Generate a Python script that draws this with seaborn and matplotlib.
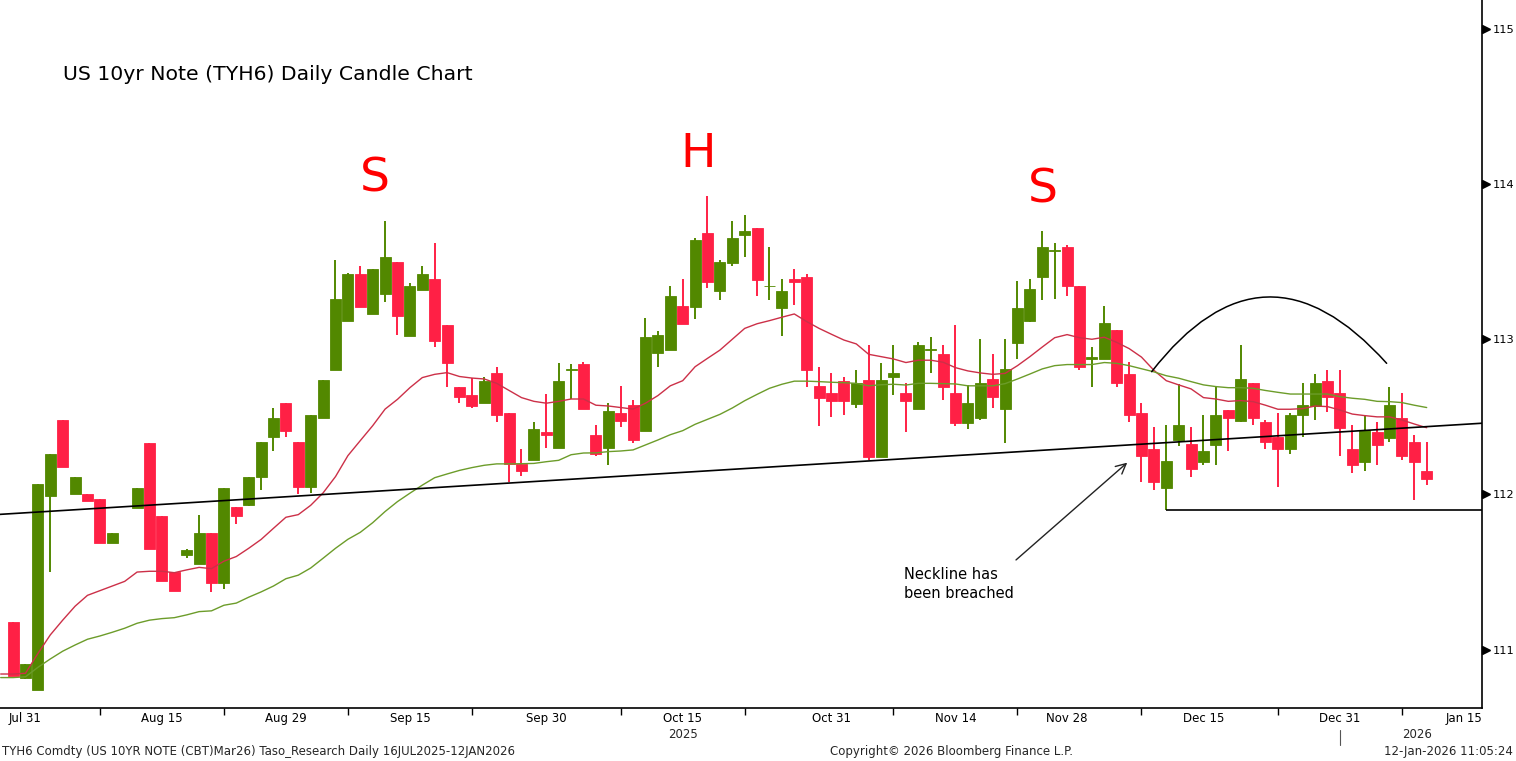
import numpy as np
import pandas as pd
import matplotlib
matplotlib.use("Agg")
import matplotlib.pyplot as plt
import matplotlib.transforms as mtransforms
import seaborn as sns

nan = np.nan

# trading sessions (CBT holidays removed), Jul 29 2025 .. Jan 16 2026
holidays = ["2025-09-01", "2025-11-27", "2025-12-25", "2026-01-01"]
sessions = pd.bdate_range("2025-07-29", "2026-01-16", freq="C", holidays=holidays)

# OHLC, Jul 29 .. Jan 12 (nan = no candle drawn)
opens = [
    nan, 111.18, 110.82,
    110.74, 111.99, 112.48, 112.00, 112.00, 111.97, 111.69, nan, 111.915, 112.33, 111.86,
    111.50, 111.61, 111.55, 111.75, 111.43, 111.92, 111.93, 112.115, 112.37, 112.59,
    112.34, 112.05, 112.49, 112.80, 113.12, 113.42, 113.165, 113.29, 113.50, 113.02, 113.32,
    113.39, 113.09, 112.69, 112.64, 112.59, 112.78, 112.525, 112.195, 112.22, 112.40,
    112.30, 112.80, 112.84, 112.38, 112.30, 112.525, 112.575, 112.41, 112.91, 112.93, 113.215,
    113.21, 113.685, 113.31, 113.49, 113.67, 113.72, 113.34, 113.20, 113.39, 113.40, 112.70, 112.655,
    112.73, 112.585, 112.74, 112.24, 112.76, 112.655, 112.55, 112.93, 112.905, 112.655,
    112.46, 112.49, 112.745, 112.55, 112.975, 113.12, 113.40, 113.57, 113.595,
    113.34, 112.87, 112.87, 113.06, 112.775, 112.525, 112.29, 112.04, 112.35, 112.325, 112.21,
    112.32, 112.545, 112.475, 112.72, 112.47, 112.37, 112.29, 112.51, 112.57, 112.73, 112.655,
    112.29, 112.21, 112.40, 112.365, 112.49, 112.34, 112.15,
]
highs = [
    nan, 111.18, 110.91,
    112.07, 112.26, 112.48, 112.11, 112.00, 111.97, 111.75, nan, 112.04, 112.33, 111.86,
    111.50, 111.65, 111.87, 111.75, 112.04, 111.92, 112.11, 112.34, 112.56, 112.59,
    112.34, 112.51, 112.74, 113.51, 113.43, 113.47, 113.45, 113.76, 113.50, 113.36, 113.47,
    113.62, 113.09, 112.69, 112.75, 112.76, 112.82, 112.525, 112.29, 112.47, 112.65,
    112.85, 112.84, 112.855, 112.45, 112.59, 112.70, 112.61, 113.14, 113.05, 113.34, 113.39,
    113.65, 113.92, 113.51, 113.76, 113.80, 113.72, 113.595, 113.39, 113.45, 113.42, 112.82, 112.78,
    112.76, 112.80, 112.96, 112.85, 112.96, 112.72, 112.98, 113.015, 112.96, 113.09,
    112.705, 113.00, 112.905, 113.00, 113.375, 113.39, 113.70, 113.62, 113.61,
    113.34, 112.95, 113.215, 113.06, 112.855, 112.59, 112.435, 112.45, 112.71, 112.435, 112.51,
    112.70, 112.545, 112.965, 112.72, 112.48, 112.525, 112.525, 112.72, 112.775, 112.80, 112.80,
    112.45, 112.51, 112.47, 112.69, 112.655, 112.385, 112.34,
]
lows = [
    nan, 110.83, 110.81,
    110.74, 111.50, 112.18, 112.00, 111.96, 111.69, 111.69, nan, 111.91, 111.65, 111.44,
    111.38, 111.59, 111.55, 111.37, 111.39, 111.81, 111.925, 112.03, 112.28, 112.37,
    112.00, 112.01, 112.49, 112.80, 113.12, 113.21, 113.16, 113.24, 113.03, 113.02, 113.32,
    112.95, 112.69, 112.59, 112.56, 112.59, 112.47, 112.08, 112.12, 112.22, 112.30,
    112.30, 112.615, 112.55, 112.25, 112.19, 112.435, 112.33, 112.41, 112.82, 112.93, 113.10,
    113.13, 113.33, 113.25, 113.47, 113.53, 113.28, 113.25, 113.02, 113.22, 112.69, 112.44, 112.50,
    112.51, 112.56, 112.22, 112.24, 112.64, 112.40, 112.55, 112.78, 112.61, 112.44,
    112.42, 112.48, 112.56, 112.33, 112.875, 113.11, 113.25, 113.26, 113.28,
    112.80, 112.69, 112.87, 112.69, 112.47, 112.08, 112.03, 111.90, 112.31, 112.11, 112.19,
    112.19, 112.28, 112.47, 112.45, 112.295, 112.045, 112.26, 112.37, 112.48, 112.53, 112.25,
    112.14, 112.15, 112.19, 112.34, 112.22, 111.965, 112.06,
]
closes = [
    nan, 110.83, 110.91,
    112.07, 112.26, 112.18, 112.11, 111.96, 111.69, 111.75, nan, 112.04, 111.65, 111.44,
    111.38, 111.64, 111.75, 111.43, 112.04, 111.86, 112.11, 112.34, 112.49, 112.41,
    112.05, 112.51, 112.74, 113.26, 113.42, 113.21, 113.45, 113.53, 113.15, 113.34, 113.42,
    112.99, 112.85, 112.63, 112.57, 112.73, 112.51, 112.195, 112.15, 112.42, 112.38,
    112.73, 112.81, 112.55, 112.26, 112.54, 112.475, 112.35, 113.015, 113.03, 113.28, 113.10,
    113.64, 113.37, 113.50, 113.65, 113.70, 113.38, 113.345, 113.31, 113.37, 112.80, 112.62, 112.60,
    112.60, 112.72, 112.24, 112.74, 112.78, 112.60, 112.96, 112.935, 112.695, 112.46,
    112.59, 112.72, 112.63, 112.81, 113.20, 113.325, 113.595, 113.575, 113.34,
    112.82, 112.885, 113.105, 112.715, 112.51, 112.245, 112.08, 112.215, 112.45, 112.165, 112.28,
    112.51, 112.49, 112.745, 112.49, 112.335, 112.29, 112.51, 112.575, 112.72, 112.63, 112.43,
    112.19, 112.415, 112.32, 112.575, 112.245, 112.21, 112.10,
]
# moving averages as drawn (red = fast, green = slow)
ma_fast = [
    110.843, 110.843, 110.848,
    110.975, 111.095, 111.19, 111.28, 111.35, 111.38, 111.41, 111.44, 111.50, 111.505, 111.505,
    111.496, 111.514, 111.53, 111.522, 111.57, 111.60, 111.653, 111.71, 111.782, 111.853,
    111.87, 111.93, 112.01, 112.115, 112.25, 112.347, 112.443, 112.55, 112.613, 112.688, 112.753,
    112.774, 112.785, 112.76, 112.75, 112.744, 112.716, 112.67, 112.624, 112.60, 112.588,
    112.60, 112.615, 112.615, 112.575, 112.57, 112.56, 112.55, 112.588, 112.637, 112.70, 112.733,
    112.823, 112.877, 112.93, 113.0, 113.07, 113.10, 113.12, 113.142, 113.163, 113.114, 113.07, 113.032,
    112.995, 112.97, 112.903, 112.888, 112.873, 112.85, 112.865, 112.865, 112.852, 112.817,
    112.796, 112.783, 112.774, 112.78, 112.83, 112.888, 112.95, 113.01, 113.03,
    113.01, 113.0, 113.013, 112.98, 112.94, 112.885, 112.80, 112.733, 112.706, 112.68, 112.624,
    112.615, 112.60, 112.605, 112.598, 112.575, 112.549, 112.549, 112.553, 112.57, 112.566, 112.544,
    112.518, 112.508, 112.50, 112.50, 112.48, 112.454, 112.43,
]
ma_slow = [
    110.82, 110.82, 110.825,
    110.886, 110.94, 110.99, 111.03, 111.067, 111.088, 111.112, 111.138, 111.17, 111.19, 111.20,
    111.206, 111.224, 111.245, 111.25, 111.286, 111.30, 111.338, 111.372, 111.41, 111.457,
    111.48, 111.526, 111.589, 111.653, 111.711, 111.756, 111.818, 111.89, 111.954, 112.008, 112.06,
    112.108, 112.132, 112.155, 112.173, 112.188, 112.197, 112.197, 112.198, 112.20, 112.211,
    112.22, 112.256, 112.267, 112.268, 112.276, 112.28, 112.287, 112.319, 112.351, 112.385, 112.411,
    112.452, 112.484, 112.516, 112.557, 112.604, 112.645, 112.684, 112.71, 112.73, 112.73, 112.727, 112.723,
    112.72, 112.716, 112.70, 112.707, 112.71, 112.705, 112.716, 112.716, 112.714, 112.712,
    112.70, 112.70, 112.70, 112.714, 112.744, 112.776, 112.809, 112.83, 112.837,
    112.837, 112.837, 112.85, 112.845, 112.83, 112.81, 112.79, 112.765, 112.749, 112.727, 112.706,
    112.695, 112.688, 112.688, 112.684, 112.67, 112.658, 112.647, 112.647, 112.647, 112.647, 112.63,
    112.62, 112.613, 112.60, 112.598, 112.592, 112.575, 112.56,
]

tick_dates = ["2025-07-31", "2025-08-15", "2025-08-29", "2025-09-15", "2025-09-30", "2025-10-15",
              "2025-10-31", "2025-11-14", "2025-11-28", "2025-12-15", "2025-12-31", "2026-01-15"]
tick_labels = ["Jul 31", "Aug 15", "Aug 29", "Sep 15", "Sep 30", "Oct 15",
               "Oct 31", "Nov 14", "Nov 28", "Dec 15", "Dec 31", "Jan 15"]
minor_dates = ["2025-08-08", "2025-08-22", "2025-09-08", "2025-09-22", "2025-10-08", "2025-10-22",
               "2025-11-07", "2025-11-21", "2025-12-08", "2025-12-23", "2026-01-08"]
price_ticks = [111, 112, 113, 114, 115]

neckline = [("2025-07-29", 111.872), ("2026-01-12", 112.437)]
support_from, support_level = "2025-12-10", 111.90

# ---------------------------------------------------------------
n = len(opens)
df = pd.DataFrame({"open": opens, "high": highs, "low": lows, "close": closes,
                   "fast": ma_fast, "slow": ma_slow}, index=sessions[:n])
df["pos"] = np.arange(n)
pos_of = {d: i for i, d in enumerate(sessions)}
def P(d):
    return pos_of[pd.Timestamp(d)]

UP, DOWN = "#528800", "#ff2045"
RED_MA, GREEN_MA = "#cc3048", "#6c9c2a"

sns.set_theme(style="white")
plt.rcParams["font.family"] = ["DejaVu Sans"]

fig = plt.figure(figsize=(15.16, 7.61), dpi=100)
ax = fig.add_axes([0, 1 - 708 / 761, 1482 / 1516, 708 / 761])

c = df.dropna(subset=["open"])
cols = np.where(c["close"] >= c["open"], UP, DOWN)
ax.vlines(c["pos"], c["low"], c["high"], colors=cols, linewidth=1.4, zorder=2)
ax.bar(c["pos"], c["close"] - c["open"], bottom=c["open"], width=0.88,
       color=cols, edgecolor=cols, linewidth=0.6, zorder=3)

sns.lineplot(x=df["pos"], y=df["fast"], ax=ax, color=RED_MA, linewidth=1.0,
             estimator=None, sort=False, zorder=4)
sns.lineplot(x=df["pos"], y=df["slow"], ax=ax, color=GREEN_MA, linewidth=1.0,
             estimator=None, sort=False, zorder=4)

# neckline + support
(d0, v0), (d1, v1) = neckline
ax.axline((P(d0), v0), (P(d1), v1), color="black", linewidth=1.2, zorder=5)
xmin, xmax = -0.056, 119.46
ax.hlines(support_level, P(support_from), xmax, color="black", linewidth=1.2, zorder=5)

ax.set_xlim(xmin, xmax)
ax.set_ylim(110.624, 115.186)
ax.set_xlabel("")
ax.set_ylabel("")

# x axis
ax.set_xticks([P(d) for d in tick_dates], tick_labels)
ax.set_xticks([P(d) for d in minor_dates], minor=True)
ax.tick_params(axis="x", which="major", length=0, pad=3, labelsize=8.5, colors="black")
ax.tick_params(axis="x", which="minor", length=5, width=1, direction="out", color="black", bottom=True)

# y axis on the right
ax.yaxis.tick_right()
ax.set_yticks(price_ticks)
ax.set_yticks([p + 0.5 for p in price_ticks[:-1]], minor=True)
ax.tick_params(axis="y", which="major", length=0, pad=7.5, labelsize=8.2, colors="black")
ax.tick_params(axis="y", which="minor", length=3, width=1, direction="out", color="black", right=True)
tri = mtransforms.blended_transform_factory(ax.transAxes, ax.transData) + \
    mtransforms.ScaledTranslation(4 / 100, 0, fig.dpi_scale_trans)
ax.plot([1] * len(price_ticks), price_ticks, ls="none", marker=">", ms=5.5,
        color="black", transform=tri, clip_on=False)

sns.despine(ax=ax, left=True, top=True, right=False, bottom=False)
for s in ("right", "bottom"):
    ax.spines[s].set_color("black")
    ax.spines[s].set_linewidth(1.2)
ax.grid(False)

# year labels under the date axis
xa = ("data", "axes fraction")
ax.annotate("2025", xy=(P("2025-10-15"), 0), xycoords=xa, xytext=(0, -27),
            textcoords="offset pixels", ha="center", va="center", fontsize=8.5)
ax.annotate("2026", xy=(114.2, 0), xycoords=xa, xytext=(0, -27),
            textcoords="offset pixels", ha="center", va="center", fontsize=8.5)
sep = mtransforms.blended_transform_factory(ax.transData, fig.transFigure)
ax.plot([P("2025-12-31")] * 2, [1 - 730 / 761, 1 - 745 / 761], color="#555555",
        linewidth=0.8, transform=sep, clip_on=False)

# annotations
fig.text(63 / 1516, 1 - 75 / 761, "US 10yr Note (TYH6) Daily Candle Chart",
         fontsize=14.7, va="center", ha="left", color="black")
for label, d, y in [("S", 30.19, 114.03), ("H", 56.23, 114.19), ("S", 84.06, 113.96)]:
    ax.text(d, y, label, color="#ff0000", fontsize=34, ha="center", va="center", zorder=6)

ax.text(72.85, 111.53, "Neckline has\nbeen breached", fontsize=10.5, ha="left", va="top",
        linespacing=1.3, color="black", zorder=6)
ax.annotate("", xy=(90.85, 112.205), xytext=(81.88, 111.578),
            arrowprops=dict(arrowstyle="->,head_length=0.6,head_width=0.3",
                            color="#222222", linewidth=1.0, shrinkA=0, shrinkB=0), zorder=6)
ax.annotate("", xy=(111.77, 112.845), xytext=(92.82, 112.791),
            arrowprops=dict(arrowstyle="-", color="black", linewidth=1.1,
                            connectionstyle="arc3,rad=-0.6", shrinkA=0, shrinkB=0), zorder=6)

# footer
fig.text(2 / 1516, 1 - 752 / 761, "TYH6 Comdty (US 10YR NOTE (CBT)Mar26) Taso_Research Daily 16JUL2025-12JAN2026",
         fontsize=8.5, ha="left", va="center")
fig.text(830 / 1516, 1 - 752 / 761, "Copyright\u00a9 2026 Bloomberg Finance L.P.",
         fontsize=8.5, ha="left", va="center")
fig.text(1513 / 1516, 1 - 752 / 761, "12-Jan-2026 11:05:24",
         fontsize=8.5, ha="right", va="center")

fig.savefig("out.png", dpi=100, facecolor="white")
